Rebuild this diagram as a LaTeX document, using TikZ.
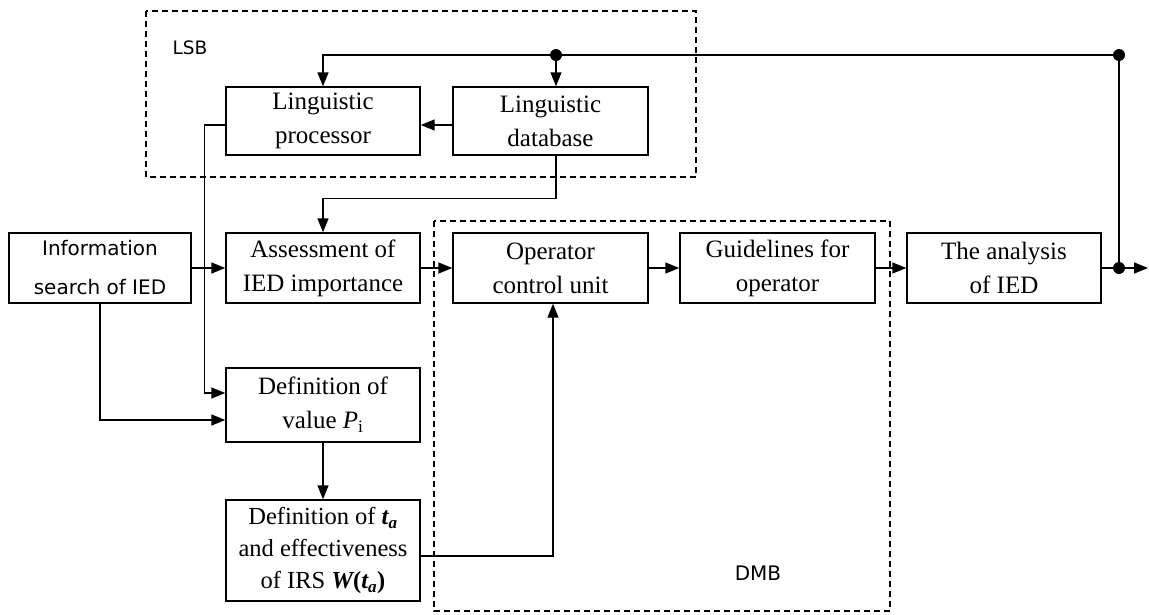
\documentclass[tikz,border=0pt]{standalone}
\usepackage{fontspec}
\setmainfont{Liberation Serif}
\newfontfamily\sansf{DejaVu Sans}
\usetikzlibrary{arrows.meta,calc}
\begin{document}
\begin{tikzpicture}[x=1pt,y=-1pt, line width=1.4pt,
 box/.style={draw, rectangle, inner sep=0pt, align=center, font=\fontsize{25}{34}\selectfont},
 arr/.style={-{Triangle[length=14pt,width=11pt]}},
 grp/.style={draw, dash pattern=on 6pt off 4pt, line width=1.1pt},
 dot/.style={circle, fill, inner sep=0pt, minimum size=12pt},
 lbl/.style={inner sep=0pt, font=\sansf\fontsize{18.5}{18.5}\selectfont}]
\useasboundingbox (0,0) rectangle (1149,614);
% groups
\draw[grp] (146,11) rectangle (696,177);
\draw[grp] (434,221) rectangle (890,611);
\node[lbl] (lsb) at (190,48) {LSB};
\node[lbl, font=\sansf\fontsize{20}{20}\selectfont] (dmb) at (758,573) {DMB};
% boxes
\node[box, minimum width=194pt, minimum height=68pt] (proc) at (323,121) {Linguistic\\processor};
\node[box, minimum width=195pt, minimum height=68pt] (db) at (550.5,121) {Linguistic\\database};
\node[box, minimum width=182pt, minimum height=70pt, font=\sansf\fontsize{20}{39}\selectfont] (info) at (100,268) {Information\\search of IED};
\node[box, minimum width=194pt, minimum height=70pt] (assess) at (323,268) {Assessment of\\IED importance};
\node[box, minimum width=195pt, minimum height=70pt] (oper) at (550.5,268) {Operator\\control unit};
\node[box, minimum width=195pt, minimum height=70pt] (guide) at (777.5,268) {Guidelines for\\operator};
\node[box, minimum width=194pt, minimum height=70pt] (ana) at (1004,268) {The analysis\\of IED};
\node[box, minimum width=194pt, minimum height=74pt] (defv) at (323,405) {Definition of\\value {\itshape P}\textsubscript{i}};
\node[box, minimum width=194pt, minimum height=101pt, font=\fontsize{24.5}{32}\selectfont] (defta) at (323,550.5) {Definition of {\bfseries\itshape t}\textsubscript{\bfseries\itshape a}\\and effectiveness\\of IRS {\bfseries\itshape W}{\bfseries (}{\bfseries\itshape t}\textsubscript{\bfseries\itshape a}{\bfseries )}};
% junctions
\coordinate (jT) at (1119,55);
\coordinate (jD) at (556,55);
\coordinate (jB) at (1119,268);
\coordinate (out) at (1148,268);
% connectors
\draw[arr] (jT) -| (proc.north);
\draw[arr] (jD) -- (jD |- db.north);
\draw (jT) -- (jB);
\draw[arr] (ana.east) -- (out);
\draw[arr] ([yshift=-4pt]db.west) -- ([yshift=-4pt]proc.east);
\draw[arr] ([yshift=-4pt]proc.west) -| ($(defv.west)+(-21,-12)$) -- ([yshift=12pt]defv.west);
\draw[arr] (info.south) |- ([yshift=-15pt]defv.west);
\draw[arr] (info.east) -- (assess.west);
\draw[arr] (db.south -| jD) -- ++(0,43) -| (assess.north);
\draw[arr] (assess.east) -- (oper.west);
\draw[arr] (oper.east) -- (guide.west);
\draw[arr] (guide.east) -- (ana.west);
\draw[arr] (defv.south) -- (defta.north);
\draw[arr] ([yshift=-5.5pt]defta.east) -| ($(oper.south)+(2.5,0)$);
\node[dot] (dT) at (jT) {};
\node[dot] (dD) at (jD) {};
\node[dot] (dB) at (jB) {};
\end{tikzpicture}
\end{document}
